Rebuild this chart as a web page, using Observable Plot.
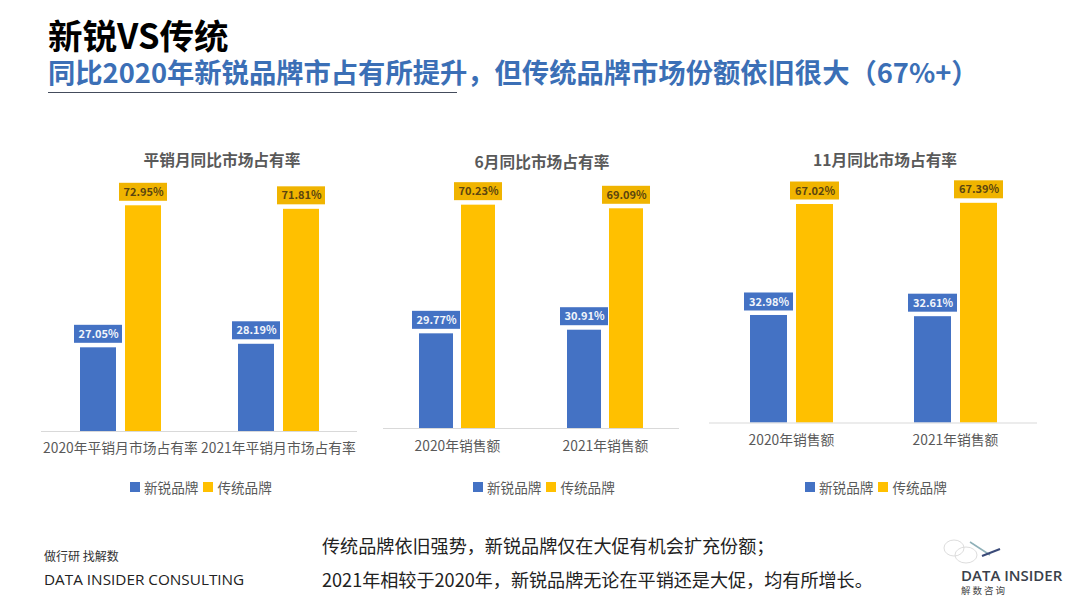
<!DOCTYPE html>
<html>
<head>
<meta charset="utf-8">
<script src="https://cdn.jsdelivr.net/npm/d3@7"></script>
<script src="https://cdn.jsdelivr.net/npm/@observablehq/plot@0.6"></script>
<style>
  body { margin: 0; background: #fff; width: 1080px; height: 608px; overflow: hidden; position: relative; font-family: "Noto Sans CJK SC", sans-serif; }
  .t { position: absolute; white-space: nowrap; line-height: 1; }
  .center { transform: translateX(-50%); }
  .lg { position: absolute; top: 479px; display: flex; align-items: center; font-size: 13.6px; line-height: 16px; color: #595959; white-space: nowrap; }
  .lg i { display: block; width: 10px; height: 10px; margin-right: 4px; }
  .lg span { margin-right: 5px; }
</style>
</head>
<body>
<div class="t" style="left:48px;top:17px;font-size:34.5px;font-weight:700;color:#000">新锐VS传统</div>
<div class="t" style="left:48px;top:58px;font-size:27.3px;font-weight:700;color:#3B6FB6">同比2020年新锐品牌市占有所提升，但传统品牌市场份额依旧很大（67%+）</div>
<div style="position:absolute;left:48px;top:92px;width:409px;height:1px;background:#444C5C"></div>

<div class="t" style="left:44px;top:550px;font-size:12px;color:#333">做行研 找解数</div>
<div class="t" style="left:44px;top:572px;font-size:15.3px;color:#222;font-family:'Open Sans'">DATA INSIDER CONSULTING</div>
<div class="t" style="left:322px;top:536px;font-size:18.1px;color:#222">传统品牌依旧强势，新锐品牌仅在大促有机会扩充份额；</div>
<div class="t" style="left:322px;top:570px;font-size:18.1px;color:#222">2021年相较于2020年，新锐品牌无论在平销还是大促，均有所增长。</div>
<!-- logo mark and faint watermark bubble -->
<svg style="position:absolute;left:940px;top:535px" width="70" height="35" fill="none">
  <ellipse cx="14" cy="13" rx="10" ry="8" stroke="#DDD"/>
  <ellipse cx="26" cy="20" rx="11" ry="8" stroke="#DDD"/>
  <path d="M30 7L50 20" stroke="#8FB0B8" stroke-width="1.5"/>
  <path d="M42 21L60 14" stroke="#3A4A78" stroke-width="2"/>
</svg>
<div class="t" style="left:961px;top:568px;font-size:15px;font-weight:600;color:#3a3f4a;font-family:'Open Sans'">DATA INSIDER</div>
<div class="t" style="left:961px;top:586px;font-size:9.5px;letter-spacing:2px;color:#444">解数咨询</div>

<script>
const brands = ["新锐品牌", "传统品牌"]
const brandColors = ["#4472C4", "#FFC000"]
const labelColors = ["#4472C4", "#F0B400"]
const labelText = ["#F2F5FB", "#5A4510"]

const titles = ["平销月同比市场占有率", "6月同比市场占有率", "11月同比市场占有率"]
const ticks1 = ["2020年平销月市场占有率", "2021年平销月市场占有率"]
const ticks2 = ["2020年销售额", "2021年销售额"]
const ticks3 = ["2020年销售额", "2021年销售额"]

const newBrand1 = [27.05, 28.19]
const oldBrand1 = [72.95, 71.81]
const newBrand2 = [29.77, 30.91]
const oldBrand2 = [70.23, 69.09]
const newBrand3 = [32.98, 32.61]
const oldBrand3 = [67.02, 67.39]

function panel(cfg) {
  const rows = []
  cfg.ticks.forEach((t, i) => {
    rows.push({ group: t, brand: brands[0], value: cfg.newBrand[i] })
    rows.push({ group: t, brand: brands[1], value: cfg.oldBrand[i] })
  })
  const top = 170
  const plotH = cfg.base - top
  const width = cfg.right - cfg.left
  const k = cfg.k // px per percentage point

  const chart = Plot.plot({
    width: width,
    height: plotH + 36,
    marginTop: 0, marginBottom: 36, marginLeft: 0, marginRight: 0,
    style: { background: "transparent", fontFamily: "'Noto Sans CJK SC'", fontSize: "13.8px", color: "#595959", overflow: "visible" },
    fx: { domain: cfg.ticks, axis: "bottom", label: null, tickSize: 0, tickPadding: cfg.tickPadding, paddingInner: 0, paddingOuter: 0 },
    x: { domain: brands, axis: null, paddingInner: 0.2, paddingOuter: 0.85 },
    y: { domain: [0, plotH / k], axis: null },
    color: { domain: brands, range: brandColors },
    marks: [
      Plot.barY(rows, { fx: "group", x: "brand", y: "value", fill: "brand" }),
      Plot.ruleY([0], { stroke: "#D9D9D9" }),
      Plot.barY(rows, {
        fx: "group", x: "brand",
        y1: d => d.value + 4.5 / k, y2: d => d.value + 22.5 / k,
        fill: d => labelColors[brands.indexOf(d.brand)],
        insetLeft: cfg.boxInset, insetRight: cfg.boxInset
      }),
      Plot.text(rows, {
        fx: "group", x: "brand",
        y: d => d.value + 13.5 / k,
        text: d => d.value.toFixed(2) + "%",
        fill: d => labelText[brands.indexOf(d.brand)],
        fontWeight: 700, fontSize: 11
      })
    ]
  })
  chart.style.position = "absolute"
  chart.style.left = cfg.left + "px"
  chart.style.top = top + "px"
  document.body.append(chart)

  const title = document.createElement("div")
  title.className = "t center"
  title.textContent = cfg.title
  title.style.cssText = `left:${cfg.titleX}px;top:${cfg.titleY}px;font-size:15.7px;font-weight:700;color:#595959`
  document.body.append(title)

  const legend = d3.select("body").append("div").attr("class", "lg").style("left", cfg.legendX + "px")
  brands.forEach((b, i) => {
    legend.append("i").style("background", brandColors[i])
    legend.append("span").text(b)
  })
}

panel({ title: titles[0], ticks: ticks1, newBrand: newBrand1, oldBrand: oldBrand1, left: 41, right: 357, base: 431, k: 3.094, boxInset: -6, tickPadding: 12, titleX: 222, titleY: 152, legendX: 130 })
panel({ title: titles[1], ticks: ticks2, newBrand: newBrand2, oldBrand: oldBrand2, left: 382, right: 679, base: 428, k: 3.18, boxInset: -7, tickPadding: 13, titleX: 542, titleY: 154, legendX: 473 })
panel({ title: titles[2], ticks: ticks3, newBrand: newBrand3, oldBrand: oldBrand3, left: 709, right: 1037, base: 422.5, k: 3.26, boxInset: -6, tickPadding: 12, titleX: 885, titleY: 152, legendX: 805 })
</script>
</body>
</html>
